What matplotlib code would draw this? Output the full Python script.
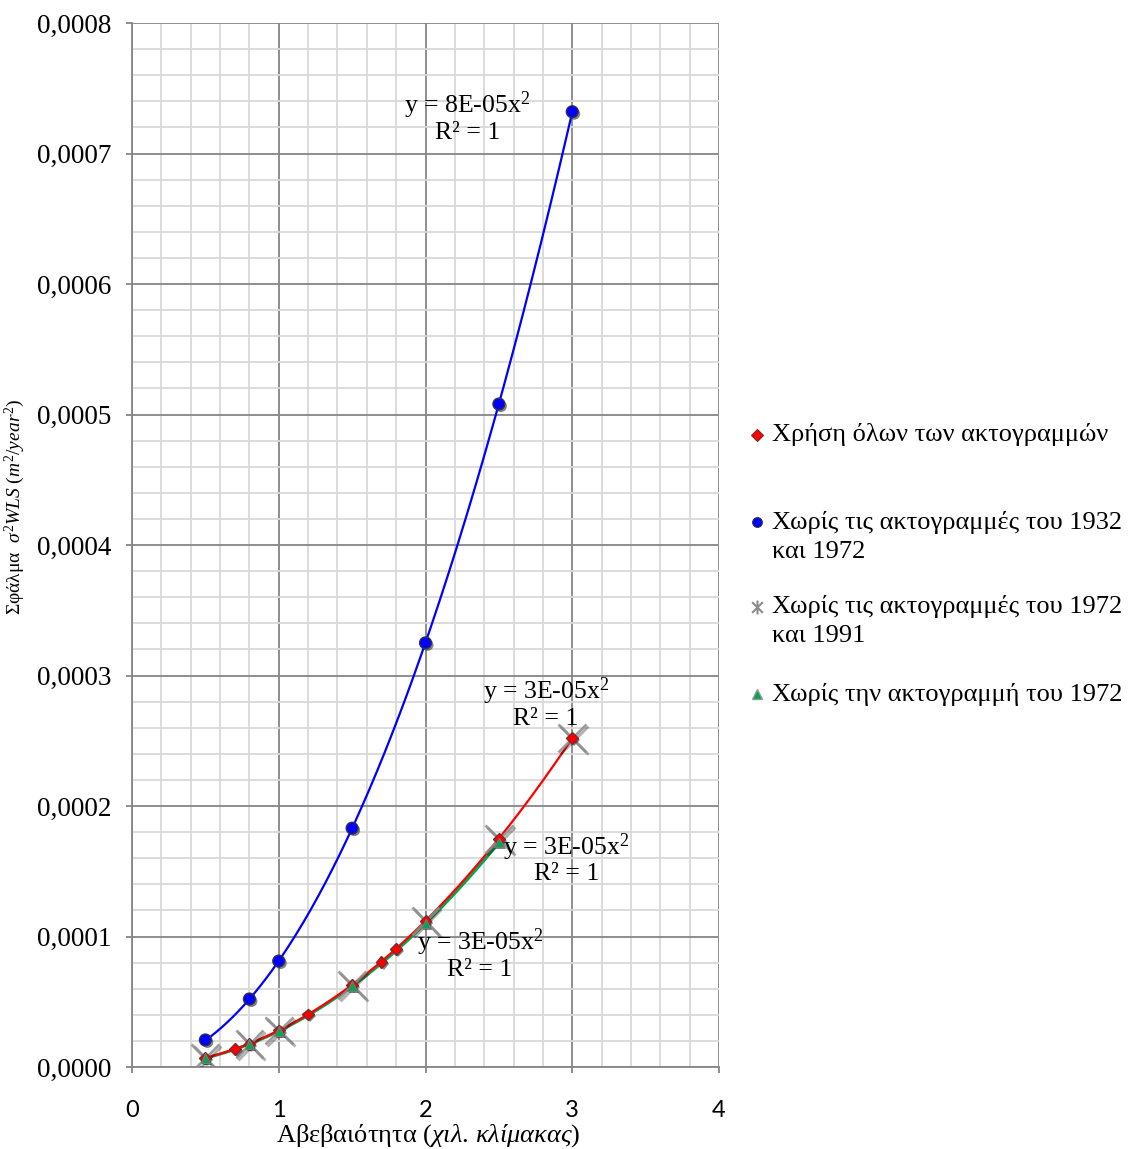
import numpy as np
import matplotlib
matplotlib.use("Agg")
import matplotlib.pyplot as plt
from matplotlib.path import Path
from matplotlib.lines import Line2D
import matplotlib.patheffects as pe
from matplotlib.ticker import MultipleLocator, FuncFormatter

plt.rcParams['font.family'] = ['Liberation Serif', 'DejaVu Serif']
plt.rcParams['mathtext.fontset'] = 'custom'
plt.rcParams['mathtext.rm'] = 'Liberation Serif'
plt.rcParams['mathtext.it'] = 'Liberation Serif:italic'

# ---- data ----
x_all = [0.5, 0.7, 0.8, 1.0, 1.2, 1.5, 1.7, 1.8, 2.0, 2.5, 3.0]
y_all = [7.0e-6, 1.37e-5, 1.79e-5, 2.8e-5, 4.03e-5, 6.3e-5, 8.07e-5, 9.07e-5, 1.12e-4, 1.75e-4, 2.52e-4]

x_blue = [0.5, 0.8, 1.0, 1.5, 2.0, 2.5, 3.0]
y_blue = [2.07e-5, 5.21e-5, 8.12e-5, 1.83e-4, 3.25e-4, 5.08e-4, 7.32e-4]

x_gray = [0.5, 0.8, 1.0, 1.5, 2.0, 2.5, 3.0]
y_gray = [7.0e-6, 1.79e-5, 2.8e-5, 6.3e-5, 1.12e-4, 1.75e-4, 2.52e-4]

x_green = [0.5, 0.8, 1.0, 1.5, 2.0, 2.5]
y_green = [6.9e-6, 1.76e-5, 2.75e-5, 6.19e-5, 1.1e-4, 1.72e-4]

labels = ["Χρήση όλων των ακτογραμμών",
          "Χωρίς τις ακτογραμμές του 1932\nκαι 1972",
          "Χωρίς τις ακτογραμμές του 1972\nκαι 1991",
          "Χωρίς την ακτογραμμή του 1972"]

eq_blue = "y = 8E-05x$^2$\nR² = 1"
eq_gray = "y = 3E-05x$^2$\nR² = 1"
eq_green = "y = 3E-05x$^2$\nR² = 1"
eq_red = "y = 3E-05x$^2$\nR² = 1"

# ---- figure ----
W, H = 1129, 1149
fig = plt.figure(figsize=(W / 100, H / 100), dpi=100)
ax = fig.add_axes([132 / W, 1 - 1067 / H, 587 / W, 1044 / H])
ax.set_xlim(0, 4)
ax.set_ylim(0, 0.0008)

ax.xaxis.set_major_locator(MultipleLocator(1))
ax.xaxis.set_minor_locator(MultipleLocator(0.2))
ax.yaxis.set_major_locator(MultipleLocator(0.0001))
ax.yaxis.set_minor_locator(MultipleLocator(0.00002))
ax.grid(which='minor', color='#d9d9d9', lw=1.3)
ax.grid(which='major', color='#868686', lw=1.3)
ax.set_axisbelow(True)
for s in ['top', 'right']:
    ax.spines[s].set_visible(False)
for s in ['left', 'bottom']:
    ax.spines[s].set_color('#868686')
    ax.spines[s].set_linewidth(1.3)
ax.tick_params(which='major', length=4.5, color='#868686', width=1.3)
ax.tick_params(which='minor', length=0)
ax.tick_params(axis='x', pad=19, labelsize=17, labelfontfamily='Lato')
ax.tick_params(axis='y', pad=10, labelsize=19.5)
ax.yaxis.set_major_formatter(FuncFormatter(lambda v, p: f"{v:.4f}".replace('.', ',')))

# trendlines: y = a x^2 fitted from data
def trend(xs, ys):
    xs = np.asarray(xs); ys = np.asarray(ys)
    a = np.sum(ys * xs**2) / np.sum(xs**4)
    xx = np.linspace(xs.min(), xs.max(), 200)
    return xx, a * xx**2

shadow = [pe.SimplePatchShadow(offset=(1.5, -1.5), shadow_rgbFace='#303030', alpha=0.6), pe.Normal()]

xx, yy = trend(x_blue, y_blue)
ax.plot(xx, yy, color='#0000ff', lw=1.6, zorder=3)
xx, yy = trend(x_green, y_green)
ax.plot(xx, yy, color='#00a650', lw=2.2, zorder=3)
xx, yy = trend(x_all, y_all)
ax.plot(xx, yy, color='#ff0000', lw=1.6, zorder=3.1)

star = Path([(-1, -1), (1, 1), (-1, 1), (1, -1), (0, -1.3), (0, 1.3)],
            [Path.MOVETO, Path.LINETO, Path.MOVETO, Path.LINETO, Path.MOVETO, Path.LINETO])

ax.plot(x_gray, y_gray, ls='none', marker='x', ms=20, mew=2, color='#8c8c8c', alpha=0.85, zorder=4,
        path_effects=[pe.SimpleLineShadow(offset=(1.5, -1.5), alpha=0.3), pe.Normal()])
ax.plot(x_all, y_all, ls='none', marker='D', ms=6, mfc='#ff0000', mec='#7a2a2a', mew=1, zorder=5,
        path_effects=shadow)
ax.plot(x_green, y_green, ls='none', marker='^', ms=7, mfc='#00a650', mec='#7a7a7a', mew=0.8, zorder=5,
        path_effects=shadow)
ax.plot(x_blue, y_blue, ls='none', marker='o', ms=8.5, mfc='#0000ff', mec='#303050', mew=1, zorder=6,
        path_effects=shadow)

# equations
eq_kw = dict(ha='center', va='center', fontsize=18.5, linespacing=1.05, zorder=7, multialignment='center')
ax.text(2.285, 0.000728, eq_blue, **eq_kw)
ax.text(2.82, 0.000279, eq_red, **eq_kw)
ax.text(2.96, 0.000160, eq_gray, **eq_kw)
ax.text(2.37, 0.0000870, eq_green, **eq_kw)

# axis labels
ax.set_xlabel("Αβεβαιότητα $\\mathit{(χιλ.\\,κλίμακας)}$", fontsize=19)
ax.xaxis.set_label_coords((428 - 132) / 587, (1067 - 1122) / 1044)
ax.set_ylabel("Σφάλμα  $\\mathit{σ^2WLS\\ (m^2/year^2)}$", fontsize=14)
ax.yaxis.set_label_coords((27 - 132) / 587, (1067 - 507) / 1044)

# legend (manual)
entries = [
    (435, 'D', dict(ms=6, mfc='#ff0000', mec='#7a2a2a', mew=0.8)),
    (522, 'o', dict(ms=7, mfc='#0000ff', mec='#303050', mew=0.8)),
    (607, star, dict(ms=10, mew=1.5, color='#8c8c8c')),
    (694, '^', dict(ms=7, mfc='#00a650', mec='#9a9a9a', mew=1)),
]
for (ypix, mk, kw), lab in zip(entries, labels):
    fig.add_artist(Line2D([757 / W], [1 - ypix / H], marker=mk, ls='none',
                          transform=fig.transFigure, **kw))
    for i, line in enumerate(lab.split("\n")):
        fig.text(772 / W, 1 - (ypix + 29.5 * i) / H, line, ha='left', va='center', fontsize=19)

fig.savefig("out.png", dpi=100)
